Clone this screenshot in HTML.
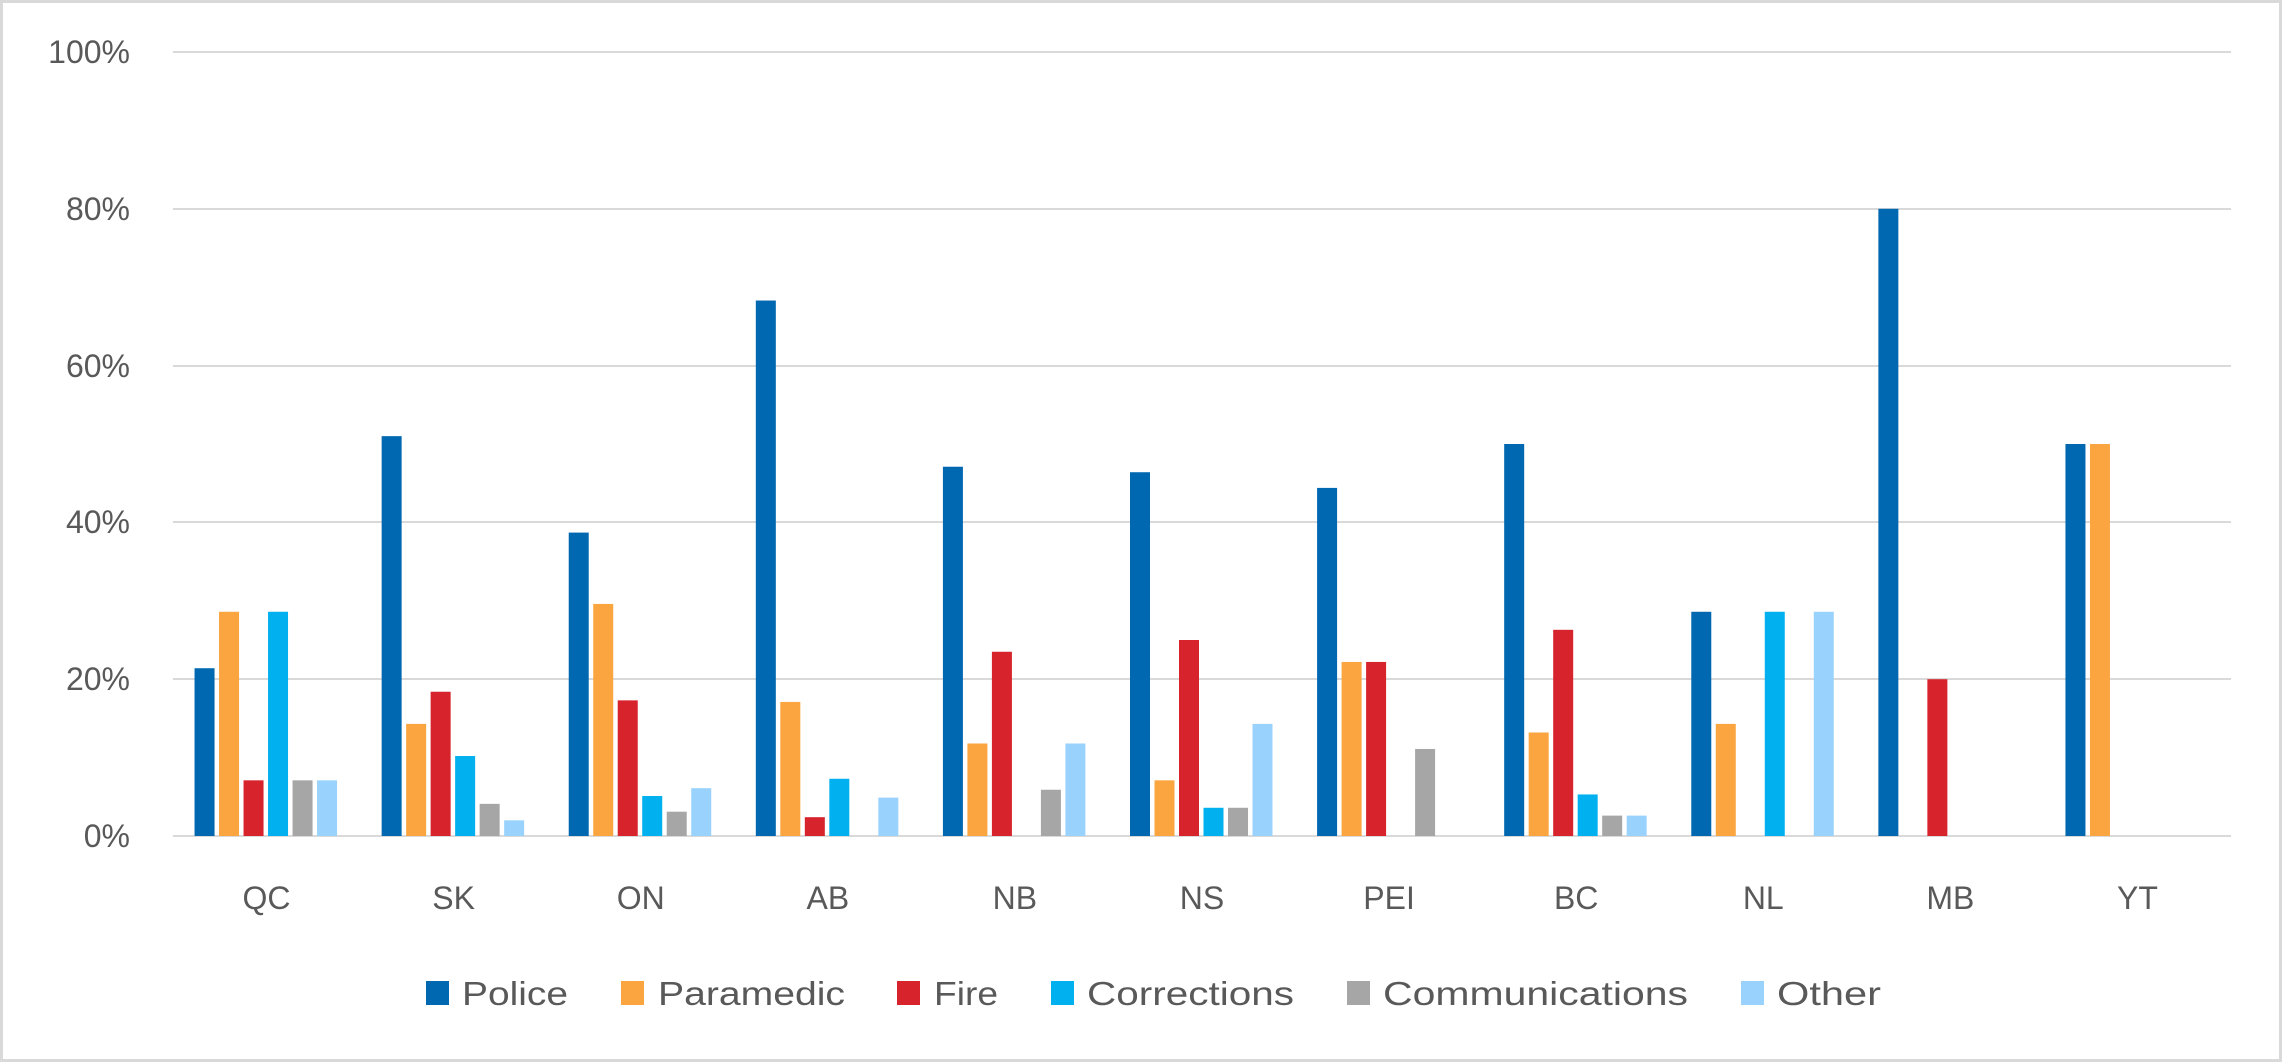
<!DOCTYPE html>
<html><head><meta charset="utf-8"><style>
html,body{margin:0;padding:0;background:#fff}
svg{display:block}
text{font-family:"Liberation Sans",sans-serif;fill:#595959}
</style></head><body>
<svg width="2282" height="1062" viewBox="0 0 2282 1062" xmlns="http://www.w3.org/2000/svg">
<rect x="1.5" y="1.5" width="2279" height="1059" fill="#fff" stroke="#d9d9d9" stroke-width="3"/>
<g stroke="#d9d9d9" stroke-width="2">
<line x1="173" x2="2231" y1="52" y2="52"/>
<line x1="173" x2="2231" y1="209" y2="209"/>
<line x1="173" x2="2231" y1="366" y2="366"/>
<line x1="173" x2="2231" y1="522" y2="522"/>
<line x1="173" x2="2231" y1="679" y2="679"/>
<line x1="173" x2="2231" y1="836" y2="836"/>
</g>
<g font-size="32" text-anchor="end">
<text x="130" y="63">100%</text>
<text x="130" y="220">80%</text>
<text x="130" y="377">60%</text>
<text x="130" y="533">40%</text>
<text x="130" y="690">20%</text>
<text x="130" y="847">0%</text>
</g>
<g id="bars"></g>
<g font-size="32" text-anchor="middle" id="cats"></g>
<g font-size="33">
<rect x="426" y="981" width="23" height="24" fill="#0067b1"/><text x="462" y="1005" textLength="106" lengthAdjust="spacingAndGlyphs">Police</text>
<rect x="621" y="981" width="23" height="24" fill="#faa53f"/><text x="658" y="1005" textLength="187" lengthAdjust="spacingAndGlyphs">Paramedic</text>
<rect x="897" y="981" width="23" height="24" fill="#d7232b"/><text x="934" y="1005" textLength="64" lengthAdjust="spacingAndGlyphs">Fire</text>
<rect x="1051" y="981" width="23" height="24" fill="#00b0ef"/><text x="1087" y="1005" textLength="207" lengthAdjust="spacingAndGlyphs">Corrections</text>
<rect x="1347" y="981" width="23" height="24" fill="#a6a6a6"/><text x="1383" y="1005" textLength="305" lengthAdjust="spacingAndGlyphs">Communications</text>
<rect x="1741" y="981" width="23" height="24" fill="#99d3fd"/><text x="1777" y="1005" textLength="104" lengthAdjust="spacingAndGlyphs">Other</text>
</g>
</svg>
<script>
var cats=["QC","SK","ON","AB","NB","NS","PEI","BC","NL","MB","YT"];
var d=[[21.4,28.6,7.1,28.6,7.1,7.1],[51.0,14.3,18.4,10.2,4.1,2.0],[38.7,29.6,17.3,5.1,3.1,6.1],[68.3,17.1,2.4,7.3,0,4.9],[47.1,11.8,23.5,0,5.9,11.8],[46.4,7.1,25,3.6,3.6,14.3],[44.4,22.2,22.2,0,11.1,0],[50,13.2,26.3,5.3,2.6,2.6],[28.6,14.3,0,28.6,0,28.6],[80,0,20,0,0,0],[50,50,0,0,0,0]];
var col=["#0067b1","#faa53f","#d7232b","#00b0ef","#a6a6a6","#99d3fd"];
var ns="http://www.w3.org/2000/svg",b=document.getElementById("bars"),c=document.getElementById("cats");
var w=2058/11;
for(var i=0;i<11;i++){var cx=173+w*(i+0.5);
for(var j=0;j<6;j++){if(!d[i][j])continue;var h=d[i][j]*7.84;var r=document.createElementNS(ns,"rect");
r.setAttribute("x",cx-72+j*24.5);r.setAttribute("width",20);r.setAttribute("y",836-h);r.setAttribute("height",h);r.setAttribute("fill",col[j]);b.appendChild(r);}
var t=document.createElementNS(ns,"text");t.setAttribute("x",cx);t.setAttribute("y",909);t.textContent=cats[i];c.appendChild(t);}
</script>
</body></html>
